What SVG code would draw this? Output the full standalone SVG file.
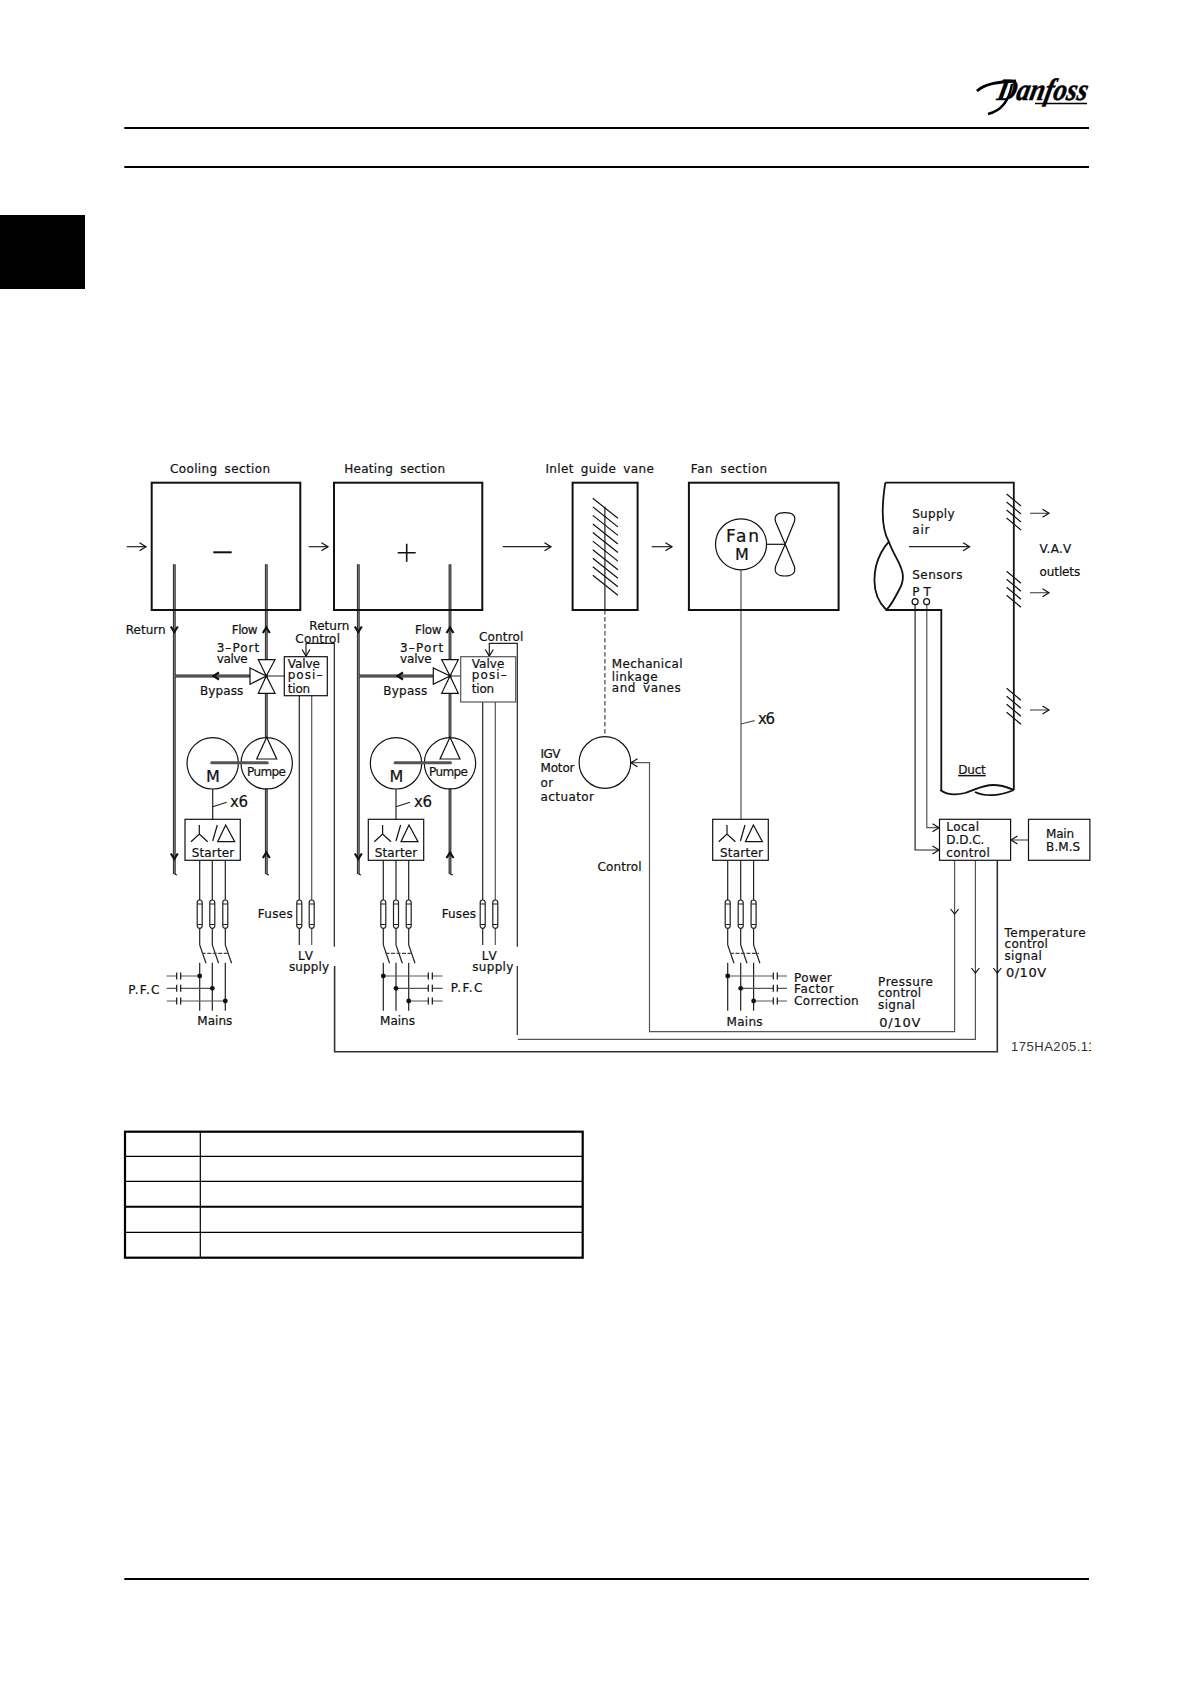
<svg xmlns="http://www.w3.org/2000/svg" width="1191" height="1684" viewBox="0 0 1191 1684">
<style>
text{font-family:"DejaVu Sans","Liberation Sans",sans-serif;font-size:12px;fill:#111;stroke:#111;stroke-width:.2;word-spacing:3px}
.logo{font-family:"Liberation Serif",serif;font-style:italic;font-weight:bold;font-size:31px;word-spacing:0;stroke-width:.5;fill:#000;stroke:#000}
.box{fill:none;stroke:#111;stroke-width:2}
.thin{fill:none;stroke:#111;stroke-width:1.2}
.w{fill:#fff;stroke:#111;stroke-width:1.2}
.line{fill:none;stroke:#222;stroke-width:1.2}
.gray{fill:none;stroke:#555;stroke-width:1.2}
.heavy{fill:none;stroke:#333;stroke-width:1.6}
.duct{fill:none;stroke:#111;stroke-width:1.8}
.pipe{fill:none;stroke:#222;stroke-width:2.8}
.core{fill:none;stroke:#aaa;stroke-width:.7}
.bold{fill:none;stroke:#111;stroke-width:2.2}
.dash{fill:none;stroke:#444;stroke-width:1.2;stroke-dasharray:4.5 2.5}
.rule{stroke:#000;stroke-width:2}
.tb{stroke:#000;stroke-width:1.2}
.dot{fill:#111}
</style>
<defs>
<marker id="open" markerUnits="userSpaceOnUse" markerWidth="10" markerHeight="10" refX="8" refY="5" orient="auto"><path d="M1.5 1 L8 5 L1.5 9" fill="none" stroke="#111" stroke-width="1.2"/></marker>
<g id="arrowDown"><path d="M-4 -4 L0 1 L4 -4" fill="none" stroke="#111" stroke-width="1.2"/></g>
<g id="pipeDown"><path d="M-3.5 -3.5 L0 2 L3.5 -3.5" fill="none" stroke="#111" stroke-width="2.2"/></g>
<g id="phase">
<path class="line" d="M0 860.3V900M0 928.3V945L6.3 963.3M0 962.7V1010.7"/>
<rect x="-2.5" y="900" width="5" height="28.3" rx="2.5" fill="#fff" stroke="#222" stroke-width="1.2"/>
<path class="line" d="M-2.5 904H2.5M-2.5 924.5H2.5"/>
</g>
<g id="lvfuse">
<rect x="-2.5" y="900" width="5" height="28.3" rx="2.5" fill="#fff" stroke="#222" stroke-width="1.2"/>
<path class="line" d="M-2.5 904H2.5M-2.5 924.5H2.5"/>
</g>
<g id="sym">
<path class="thin" d="M14.3 825V834M6 841.7L14.3 834L22.7 841.7M27.7 841L32.3 825M40.7 825L32.7 841.7H49.7Z"/>
</g>
<g id="vane"><path class="thin" d="M0 0L14.4 12M0 8L14.4 20M0 16L14.4 28M0 24L14.4 36"/></g>
<g id="plates"><path class="thin" d="M0 972.5V979.5M4 972.5V979.5M0 984.8V991.8M4 984.8V991.8M0 997.5V1004.5M4 997.5V1004.5"/></g>
<clipPath id="clipId"><rect x="1005" y="1030" width="86" height="30"/></clipPath>
</defs>

<g id="page">
<rect x="0" y="215" width="85" height="74" fill="#000"/>
<path class="rule" d="M124.3 128H1089M124.3 167H1089M124.3 1579H1089"/>
</g>

<g id="logo">
<text class="logo" transform="translate(996 100) skewX(-12)" x="0" y="0" textLength="90" lengthAdjust="spacingAndGlyphs">Danfoss</text>
<path d="M977 91C985 83 1000 82 1016 81" fill="none" stroke="#000" stroke-width="3"/>
<path d="M1012 84C1010 96 1005 110 988 114" fill="none" stroke="#000" stroke-width="2.4"/>
<path d="M1035 103.5H1087" fill="none" stroke="#000" stroke-width="1.4"/>
</g>

<g id="connectors">
<path class="line" d="M126.7 546.7H146" marker-end="url(#open)"/>
<path class="line" d="M308.7 546.7H328" marker-end="url(#open)"/>
<path class="line" d="M502.7 546.7H551" marker-end="url(#open)"/>
<path class="line" d="M651.7 546.7H672" marker-end="url(#open)"/>

<path class="pipe" d="M174.3 564.3V874M266.3 564.3V737M266.3 788.3V874M174.3 676H250M358.3 564.3V874M450 564.3V737M450 788.3V874M358.3 676H433"/>
<path class="core" d="M174.3 564.3V874M266.3 564.3V737M266.3 788.3V874M174.3 676H250M358.3 564.3V874M450 564.3V737M450 788.3V874M358.3 676H433"/>
<path class="line" d="M174.3 874L177 875M266.3 874L269 875M358.3 874L361 875M450 874L453 875"/>
<use href="#pipeDown" x="174.3" y="630"/>
<use href="#pipeDown" x="358.3" y="630"/>
<use href="#pipeDown" x="174.3" y="857"/>
<use href="#pipeDown" x="358.3" y="857"/>
<path class="bold" d="M262.8 633L266.3 627.5L269.8 633M446.5 633L450 627.5L453.5 633M262.8 858L266.3 852.5L269.8 858M446.5 858L450 852.5L453.5 858"/>
<path class="bold" d="M219 672.5L213.5 676L219 679.5M403 672.5L397.5 676L403 679.5"/>
<path class="line" d="M266.3 676H284.3M450 676H460.7"/>

<path class="line" d="M334.3 946.7V643.3H306V656" marker-end="url(#open)"/>
<path class="line" d="M517.3 946.7V643.3H489.3V656" marker-end="url(#open)"/>
<path class="heavy" d="M334.6 966V1051.7H997.3V860.7"/>
<use href="#arrowDown" x="997.3" y="972"/>
<path class="line" d="M517.3 966V1035"/>
<path class="gray" d="M517.7 1039.3H975.4V860.7"/>
<use href="#arrowDown" x="975.4" y="972"/>
<path class="gray" d="M954.6 860.7V1031.7H649.5V762.7H631" marker-end="url(#open)"/>
<use href="#arrowDown" x="954.6" y="913"/>

<path class="line" d="M299.3 695.7V945"/>
<path class="gray" d="M311.7 695.7V945"/>
<path class="line" d="M482.7 702V945"/>
<path class="gray" d="M495.3 702V945"/>

<path class="line" d="M212.7 789V819.3M212.7 806.7L226.7 802.3M396 789V819.3M396 806.7L410 802.3"/>
<path class="gray" d="M741 569.8V819.3M741 724L754.6 720.7"/>
<path class="line" d="M604.9 506.7V610"/>
<path class="dash" d="M604.9 610V736.7"/>

<path class="line" d="M915.1 604.7V850H939" marker-end="url(#open)"/>
<path class="gray" d="M926.8 604.7V827.7H939" marker-end="url(#open)"/>
<path class="gray" d="M1028.5 840H1011" marker-end="url(#open)"/>

<path class="line" d="M909 546.7H969.6" marker-end="url(#open)"/>
<path class="gray" d="M1030 513.3H1049" marker-end="url(#open)"/>
<path class="gray" d="M1030 592.7H1049" marker-end="url(#open)"/>
<path class="gray" d="M1030 710H1049" marker-end="url(#open)"/>
</g>

<g id="cooling-section">
<rect class="box" x="151.7" y="482.7" width="148.6" height="127.3"/>
<path class="box" d="M213.3 552.3H231.7"/>
<text x="170" y="473.3" textLength="100">Cooling section</text>
</g>
<g id="heating-section">
<rect class="box" x="334" y="482.7" width="148.3" height="127.3"/>
<path class="box" style="stroke-width:1.6" d="M397.7 552.7H415.7M406.7 543.7V561.7"/>
<text x="344.3" y="473.3" textLength="100.7">Heating section</text>
</g>
<g id="pipe-labels">
<text x="125.7" y="634.3" textLength="40">Return</text>
<text x="231.7" y="634.3" textLength="26">Flow</text>
<text x="216.7" y="652" textLength="42.6">3–Port</text>
<text x="216.7" y="663.3" textLength="31">valve</text>
<text x="200" y="695" textLength="43.3">Bypass</text>
<text x="309.3" y="630.3" textLength="40">Return</text>
<text x="295.3" y="642.7" textLength="44.7">Control</text>
<text x="415" y="634.3" textLength="26.7">Flow</text>
<text x="400" y="652" textLength="43.3">3–Port</text>
<text x="400" y="663.3" textLength="31.7">valve</text>
<text x="383.3" y="695" textLength="44">Bypass</text>
<text x="479" y="641" textLength="44.3">Control</text>
</g>
<g id="valve-cooling">
<path class="w" d="M266.3 676L258.3 659.7H275ZM266.3 676L258.3 693.3H275ZM266.3 676L250 668V684.3Z"/>
</g>
<g id="valve-heating">
<path class="w" d="M450 676L441.7 659.7H458.3ZM450 676L441.7 693.3H458.3ZM450 676L433.3 668V684.3Z"/>
</g>
<g id="valve-position-cooling">
<rect class="thin" x="284.3" y="656.7" width="43" height="39"/>
<text x="287.7" y="668.3" textLength="32.3">Valve</text>
<text x="287.7" y="679.3" textLength="34.7">posi–</text>
<text x="287.7" y="692.7" textLength="22.5">tion</text>
</g>
<g id="valve-position-heating">
<rect class="gray" x="460.7" y="656.7" width="55" height="45.3"/>
<text x="471.7" y="668.3" textLength="32.6">Valve</text>
<text x="471.7" y="679.3" textLength="35">posi–</text>
<text x="471.7" y="692.7" textLength="22.5">tion</text>
</g>
<g id="motor-pump-cooling">
<circle class="thin" cx="212.7" cy="763.3" r="25.7"/>
<circle class="thin" cx="266.7" cy="763.3" r="25.7"/>
<path class="w" d="M266.7 737.3L256.7 759H276.7Z"/>
<path d="M211.7 762.7H267.3" stroke="#555" stroke-width="3" stroke-linecap="round"/>
<text x="206" y="782" textLength="14" style="font-size:16px">M</text>
<text x="247" y="775.7" textLength="39">Pumpe</text>
<text x="230" y="806.7" textLength="18" style="font-size:15px">x6</text>
</g>
<g id="motor-pump-heating">
<circle class="thin" cx="396" cy="763.3" r="25.7"/>
<circle class="thin" cx="450" cy="763.3" r="25.7"/>
<path class="w" d="M450 737.3L440 759H460Z"/>
<path d="M395 762.7H450.5" stroke="#555" stroke-width="3" stroke-linecap="round"/>
<text x="389.5" y="782" textLength="14" style="font-size:16px">M</text>
<text x="429" y="775.7" textLength="39">Pumpe</text>
<text x="414" y="806.7" textLength="18" style="font-size:15px">x6</text>
</g>
<g id="starter-cooling">
<rect class="thin" x="185" y="819.3" width="55.3" height="41"/>
<use href="#sym" x="185"/>
<text x="191.7" y="857.3" textLength="42.6">Starter</text>
</g>
<g id="starter-heating">
<rect class="thin" x="368.3" y="819.3" width="55.4" height="41"/>
<use href="#sym" x="368.3"/>
<text x="374.7" y="857.3" textLength="42.6">Starter</text>
</g>
<g id="starter-fan">
<rect class="thin" x="712.7" y="819.3" width="55.6" height="41"/>
<use href="#sym" x="712.7"/>
<text x="720" y="857.3" textLength="43">Starter</text>
</g>
<g id="feed-cooling">
<use href="#phase" x="199.7"/><use href="#phase" x="212.3"/><use href="#phase" x="225.3"/>
<path class="dash" style="stroke-dasharray:4 1.5" d="M201.7 953.3H228.3"/>
<path class="gray" d="M166.7 976H176.7M180.7 976H199.7M166.7 988.3H176.7M180.7 988.3H212.3M166.7 1001H176.7M180.7 1001H225.3"/>
<use href="#plates" x="176.7"/>
<circle class="dot" cx="199.7" cy="976" r="2.4"/><circle class="dot" cx="212.3" cy="988.3" r="2.4"/><circle class="dot" cx="225.3" cy="1001" r="2.4"/>
<text x="128.3" y="994" textLength="31">P.F.C</text>
<text x="197.3" y="1025" textLength="35">Mains</text>
</g>
<g id="feed-heating">
<use href="#phase" x="383.3"/><use href="#phase" x="396"/><use href="#phase" x="408.7"/>
<path class="dash" style="stroke-dasharray:4 1.5" d="M385.5 953.3H412"/>
<path class="gray" d="M383.3 976H428.3M432.3 976H442.7M396 988.3H428.3M432.3 988.3H442.7M408.7 1001H428.3M432.3 1001H442.7"/>
<use href="#plates" x="428.3"/>
<circle class="dot" cx="383.3" cy="976" r="2.4"/><circle class="dot" cx="396" cy="988.3" r="2.4"/><circle class="dot" cx="408.7" cy="1001" r="2.4"/>
<text x="450.7" y="992.3" textLength="31.6">P.F.C</text>
<text x="380" y="1025" textLength="35">Mains</text>
</g>
<g id="feed-fan">
<use href="#phase" x="727.7"/><use href="#phase" x="740.7"/><use href="#phase" x="753.6"/>
<path class="dash" style="stroke-dasharray:4 1.5" d="M730 953.3H759"/>
<path class="gray" d="M727.7 976H773.3M777.3 976H787M740.7 988.3H773.3M777.3 988.3H787M753.6 1001H773.3M777.3 1001H787"/>
<use href="#plates" x="773.3"/>
<circle class="dot" cx="727.7" cy="976" r="2.4"/><circle class="dot" cx="740.7" cy="988.3" r="2.4"/><circle class="dot" cx="753.6" cy="1001" r="2.4"/>
<text x="794.1" y="981.7" textLength="37.7">Power</text>
<text x="794.1" y="993.3" textLength="39.5">Factor</text>
<text x="794.1" y="1005.3" textLength="64.6">Correction</text>
<text x="726.6" y="1025.7" textLength="35.9">Mains</text>
</g>
<g id="lv-supply-cooling">
<use href="#lvfuse" x="299.3"/><use href="#lvfuse" x="311.7"/>
<text x="257.7" y="918.3" textLength="35">Fuses</text>
<text x="298" y="960" textLength="15">LV</text>
<text x="289" y="970.7" textLength="40">supply</text>
</g>
<g id="lv-supply-heating">
<use href="#lvfuse" x="482.7"/><use href="#lvfuse" x="495.3"/>
<text x="441.7" y="918.3" textLength="34.3">Fuses</text>
<text x="481.7" y="960" textLength="15">LV</text>
<text x="472.3" y="970.7" textLength="41">supply</text>
</g>
<g id="inlet-guide-vane">
<rect class="box" x="572.6" y="482.7" width="65" height="127.3"/>
<path class="thin" d="M592.8 498.3l25.1 20M592.8 506.9l25.1 20M592.8 515.4l25.1 20M592.8 524l25.1 20M592.8 532.5l25.1 20M592.8 541.1l25.1 20M592.8 549.7l25.1 20M592.8 558.2l25.1 20M592.8 566.8l25.1 20M592.8 575.3l25.1 20"/>
<text x="545.4" y="473.3" textLength="108.4">Inlet guide vane</text>
<text x="611.8" y="668.3" textLength="70.7">Mechanical</text>
<text x="611.8" y="680.7" textLength="45.9">linkage</text>
<text x="611.8" y="692.3" textLength="68.9">and vanes</text>
</g>
<g id="igv-motor">
<circle class="thin" cx="604.9" cy="762.5" r="25.8"/>
<text x="540.5" y="757.7" textLength="20">IGV</text>
<text x="540.5" y="772.3" textLength="34">Motor</text>
<text x="540.5" y="787.3" textLength="12.6">or</text>
<text x="540.5" y="800.7" textLength="53.5">actuator</text>
<text x="597.4" y="870.7" textLength="44.2">Control</text>
</g>
<g id="fan-section">
<rect class="box" x="688.9" y="482.7" width="149.7" height="127.3"/>
<circle class="thin" cx="741" cy="544.3" r="25.5"/>
<path class="thin" d="M766.5 544.3H785.2"/>
<path class="thin" d="M785.2 544.3L775.7 522C773.5 515 778 512.7 785 512.7C792 512.7 796.5 515 794.2 522L785.2 544.3L775.7 566C773.5 573 778 576 785 576C792 576 796.5 573 794.2 566Z"/>
<text x="726" y="542.3" textLength="33" style="font-size:17px">Fan</text>
<text x="735" y="559.8" textLength="13.5" style="font-size:16px">M</text>
<text x="690.8" y="473.3" textLength="76.4">Fan section</text>
<text x="757.9" y="724" textLength="17.2" style="font-size:15px">x6</text>
</g>
<g id="duct">
<path class="duct" d="M885.3 482.7H1013.8V790M886.4 610H941.3V790"/>
<path class="duct" d="M885.3 482.7C881 510 882 530 888.9 541.7C895 560 910 572 899 590C894 600 891 605 886.4 610C876 600 872 585 876 566C879 555 884 547 888.9 541.7"/>
<path class="duct" d="M940.2 790C947 795 957 795 965 793C975 790 982 785 993 785C1003 785 1009 788 1013.8 790M975 792C985 797 1000 796 1013.8 790"/>
<use href="#vane" x="1006.6" y="494"/>
<use href="#vane" x="1006.6" y="571.3"/>
<use href="#vane" x="1006.6" y="688.3"/>
<circle class="w" cx="915.1" cy="601.7" r="3"/>
<circle class="w" cx="926.6" cy="601.7" r="3"/>
<text x="912.2" y="518.3" textLength="42.4">Supply</text>
<text x="912.2" y="534" textLength="17.3">air</text>
<text x="912.2" y="578.7" textLength="50.3">Sensors</text>
<text x="912.2" y="595.7" textLength="6.5">P</text>
<text x="923.4" y="595.7" textLength="6.1">T</text>
<text x="1039.6" y="552.7" textLength="31.6">V.A.V</text>
<text x="1039.6" y="576" textLength="40.6">outlets</text>
<text x="958.2" y="774" textLength="27.6" text-decoration="underline">Duct</text>
</g>
<g id="ddc-control">
<rect class="thin" x="939.5" y="819.3" width="71.1" height="41"/>
<text x="946.3" y="831" textLength="32.7">Local</text>
<text x="946.3" y="844" textLength="38.1">D.D.C.</text>
<text x="946.3" y="856.7" textLength="43.5">control</text>
</g>
<g id="main-bms">
<rect class="thin" x="1028.5" y="819.3" width="61.4" height="41"/>
<text x="1046.1" y="837.7" textLength="28">Main</text>
<text x="1046.1" y="851" textLength="34.1">B.M.S</text>
</g>
<g id="signal-labels">
<text x="878.1" y="985.7" textLength="54.9">Pressure</text>
<text x="878.1" y="997.3" textLength="43.1">control</text>
<text x="878.1" y="1009" textLength="37">signal</text>
<text x="879.2" y="1026.7" textLength="41.3" style="font-size:13px">0/10V</text>
<text x="1004.5" y="936.7" textLength="81.1">Temperature</text>
<text x="1004.5" y="948.3" textLength="43.4">control</text>
<text x="1004.5" y="960" textLength="37.3">signal</text>
<text x="1005.9" y="976.7" textLength="40.2" style="font-size:13px">0/10V</text>
<text x="1010.9" y="1051" clip-path="url(#clipId)" style="font-family:'Liberation Sans',sans-serif;font-size:13px;fill:#333;stroke:none" textLength="84">175HA205.11</text>
</g>

<g id="table">
<rect x="125" y="1131.7" width="457.7" height="126" fill="none" stroke="#000" stroke-width="2.2"/>
<path class="tb" d="M200.3 1131.7V1257.7M125 1156.3H582.7M125 1181.3H582.7M125 1232.3H582.7"/>
<path d="M125 1206.7H582.7" stroke="#000" stroke-width="2"/>
</g>
</svg>
